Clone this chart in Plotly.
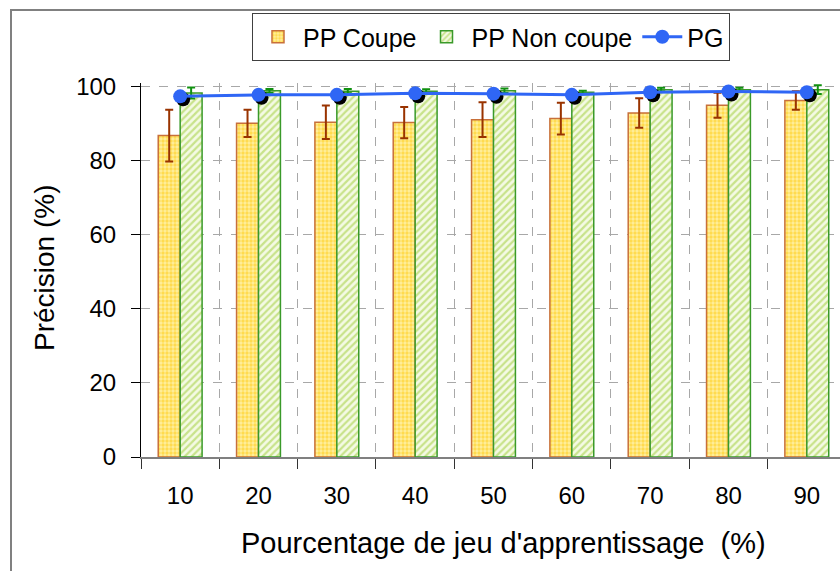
import plotly.graph_objects as go

# Training-set percentage (categories)
categories = ["10", "20", "30", "40", "50", "60", "70", "80", "90"]

# Precision (%) per method
pp_coupe = [86.8, 90.1, 90.4, 90.3, 91.1, 91.4, 92.9, 95.0, 96.3]
pp_coupe_err = [7.0, 3.7, 4.5, 4.2, 4.7, 4.3, 4.0, 3.4, 2.5]

pp_non_coupe = [98.3, 98.9, 98.8, 98.8, 98.9, 98.5, 99.2, 99.2, 99.2]
pp_non_coupe_err = [1.5, 0.5, 0.6, 0.5, 0.6, 0.4, 0.5, 0.5, 1.2]

pg = [97.4, 97.8, 97.8, 98.2, 98.1, 97.8, 98.5, 98.7, 98.5]

y_ticks = [0, 20, 40, 60, 80, 100]

FONT = "Liberation Sans, Arial, sans-serif"

# Geometry of the plotting area (pixels)
W, H = 840, 571
L, T, B = 141, 83, 114
px_per_cat = 78.33
x_end = -0.5 + (W - L) / px_per_cat
y_top = 101
px_per_unit = (H - T - B) / y_top
shadow = 3  # drop-shadow offset of the PG markers, px

fig = go.Figure()

fig.add_trace(go.Bar(
    x=categories, y=pp_coupe, name="PP Coupe",
    marker=dict(
        color="#FFE066",
        line=dict(color="#C8703A", width=1.5),
        pattern=dict(shape=".", size=4, solidity=0.55,
                     fgcolor="#FFC800", bgcolor="#FFEE9E"),
    ),
    error_y=dict(type="data", array=pp_coupe_err, visible=True,
                 color="#993300", thickness=2, width=4),
))

fig.add_trace(go.Bar(
    x=categories, y=pp_non_coupe, name="PP Non coupe",
    marker=dict(
        color="#E4F2C4",
        line=dict(color="#3A9A2A", width=1.5),
        pattern=dict(shape="/", size=5, solidity=0.45,
                     fgcolor="#9CCB30", bgcolor="#F4FAE4"),
    ),
    error_y=dict(type="data", array=pp_non_coupe_err, visible=True,
                 color="#109010", thickness=2, width=4),
))

# Shadow of the PG markers, on a slightly shifted overlay axis pair
fig.add_trace(go.Scatter(
    x=categories, y=pg, mode="markers", showlegend=False,
    marker=dict(size=14, color="black"),
    xaxis="x2", yaxis="y2", hoverinfo="skip",
))

fig.add_trace(go.Scatter(
    x=categories, y=pg, name="PG", mode="lines+markers",
    line=dict(color="#2F66F5", width=3),
    marker=dict(size=14, color="#2F66F5"),
    xaxis="x3", yaxis="y3",
))

dx = shadow / px_per_cat
dy = shadow / px_per_unit

hidden_x = dict(type="category", categoryorder="array", categoryarray=categories,
                visible=False, overlaying="x", fixedrange=True)
hidden_y = dict(visible=False, overlaying="y", fixedrange=True)

fig.update_layout(
    width=W, height=H,
    margin=dict(l=L, r=0, t=T, b=B, pad=0),
    paper_bgcolor="white", plot_bgcolor="white",
    font=dict(family=FONT, size=24, color="black"),
    barmode="group", bargap=0.44, bargroupgap=0,
    showlegend=True,
    legend=dict(
        orientation="h", x=0.5007, xanchor="center",
        y=(H - B - 13) / (H - T - B), yanchor="top",
        bgcolor="white", bordercolor="#404040", borderwidth=1,
        font=dict(family=FONT, size=25, color="black"),
        itemwidth=40, tracegroupgap=0,
    ),
    xaxis=dict(
        type="category", categoryorder="array", categoryarray=categories,
        range=[-0.5, x_end],
        tickson="boundaries", ticks="outside", ticklen=10, tickwidth=1,
        tickcolor="#333333",
        showline=True, linecolor="#808080", linewidth=2,
        showgrid=True, gridcolor="#A8A8A8", griddash="dash", gridwidth=1,
        tickfont=dict(family=FONT, size=24, color="black"),
        ticklabelstandoff=16,
    ),
    yaxis=dict(
        range=[0, y_top], tickvals=y_ticks,
        ticks="outside", ticklen=9, tickwidth=1, tickcolor="black",
        showline=True, linecolor="black", linewidth=1,
        showgrid=True, gridcolor="#A8A8A8", griddash="dash", gridwidth=1,
        zeroline=False,
        tickfont=dict(family=FONT, size=24, color="black"),
        ticklabelstandoff=10,
    ),
    xaxis2=dict(hidden_x, range=[-0.5 - dx, x_end - dx]),
    yaxis2=dict(hidden_y, range=[0 + dy, y_top + dy]),
    xaxis3=dict(hidden_x, range=[-0.5, x_end]),
    yaxis3=dict(hidden_y, range=[0, y_top]),
)

plot_w = W - L
plot_h = H - T - B

# Outer chart frame
fig.add_shape(
    type="rect", xref="paper", yref="paper",
    x0=(11 - L) / plot_w, x1=1.2,
    y0=-0.6, y1=(H - B - 10) / plot_h,
    line=dict(color="#808080", width=2), fillcolor="rgba(0,0,0,0)",
    layer="below",
)

# Axis titles
fig.add_annotation(
    text="Pourcentage de jeu d'apprentissage  (%)",
    xref="paper", yref="paper",
    x=(504 - L) / plot_w, y=(H - B - 543) / plot_h,
    xanchor="center", yanchor="middle", showarrow=False,
    font=dict(family=FONT, size=29, color="black"),
)
fig.add_annotation(
    text="Précision (%)",
    xref="paper", yref="paper",
    x=(44 - L) / plot_w, y=(H - B - 268) / plot_h,
    xanchor="center", yanchor="middle", showarrow=False, textangle=-90,
    font=dict(family=FONT, size=28, color="black"),
)

fig.write_html("out.html")
